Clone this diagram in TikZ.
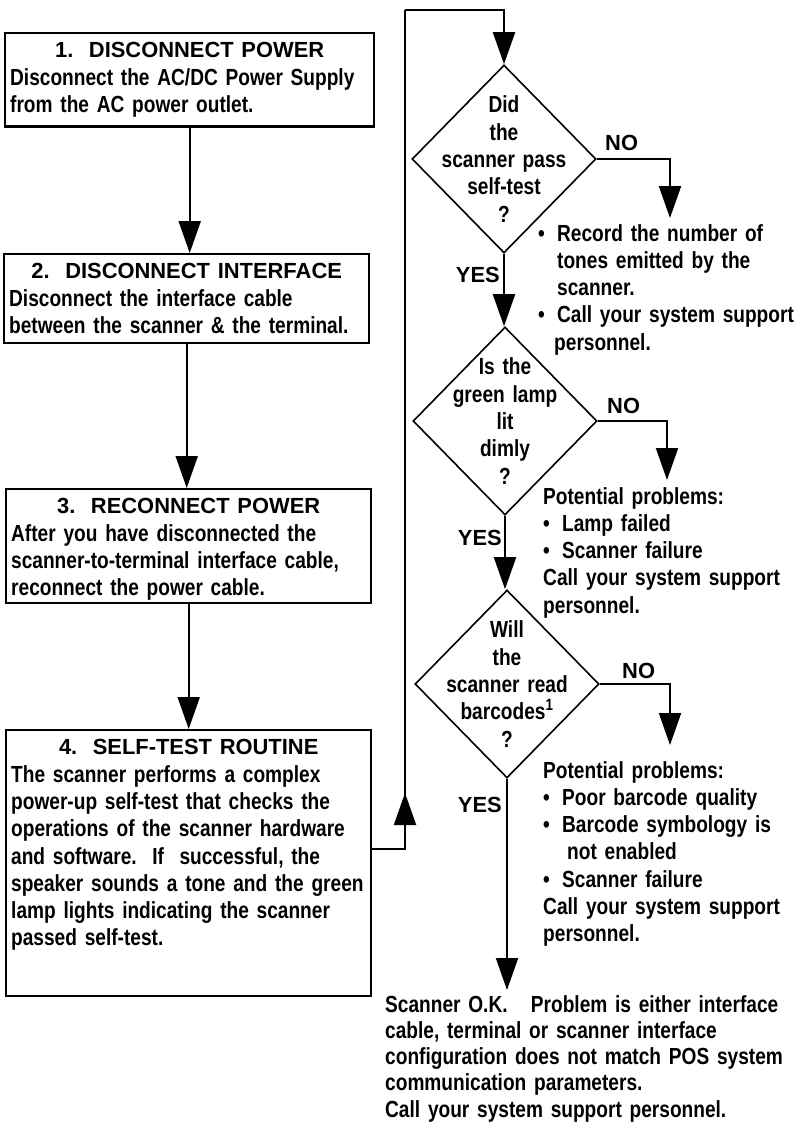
\documentclass[tikz,border=0pt]{standalone}
\usepackage{fontspec}
\setmainfont{Liberation Sans}[FakeStretch=0.82]
\newfontfamily\headfont{Liberation Sans}
\usetikzlibrary{shapes.geometric,arrows.meta}
\newcommand{\bodyfont}{\fontsize{23.3}{27.3}\selectfont\bfseries}
\newcommand{\okfont}{\fontsize{23.3}{26.3}\selectfont\bfseries}
\newcommand{\lblfont}{\headfont\fontsize{21.9}{27.3}\selectfont\bfseries}
\newcommand{\itm}{\makebox[19pt][l]{•}}
\newcommand{\ind}[1]{\hspace*{#1pt}}
\newcommand{\steptitle}[1]{\makebox[\linewidth]{\lblfont #1}}
\begin{document}
\frenchspacing
\begin{tikzpicture}[x=1pt,y=-1pt, font=\bodyfont,
  stepbox/.style={draw, line width=2.4pt, anchor=north west, text width=355pt,
    inner xsep=5pt, inner ysep=9.3pt},
  decision/.style={draw, diamond, line width=1.6pt, minimum width=184pt,
    minimum height=188pt, inner sep=0pt},
  qtext/.style={text width=170pt, inner sep=0pt},
  lbl/.style={inner sep=0pt, font=\lblfont},
  note/.style={anchor=base west, inner sep=0pt, text width=420pt},
  flow/.style={line width=2pt, -{Triangle[width=22pt,length=32pt]}},
  wire/.style={line width=2pt}]
\useasboundingbox (0,0) rectangle (794,1125);

% left column: the four steps
\node[stepbox, text width=359pt] (b1) at (4,32)
  {\steptitle{1.\ \ DISCONNECT POWER}\\
   Disconnect the AC/DC Power Supply\\from the AC power outlet.};
\node[stepbox] (b2) at (3,253)
  {\steptitle{2.\ \ DISCONNECT INTERFACE}\\
   Disconnect the interface cable\\between the scanner \& the terminal.};
\node[stepbox, text depth=79.7pt] (b3) at (5,488)
  {\steptitle{3.\ \ RECONNECT POWER}\\
   After you have disconnected the\\scanner-to-terminal interface cable,\\
   reconnect the power cable.};
\node[stepbox, text depth=231.7pt] (b4) at (5,729)
  {\steptitle{4.\ \ SELF-TEST ROUTINE}\\
   The scanner performs a complex\\power-up self-test that checks the\\
   operations of the scanner hardware\\and software.\ \ If\ \ successful, the\\
   speaker sounds a tone and the green\\lamp lights indicating the scanner\\
   passed self-test.};

\draw[flow] (b1.south) -- (b1.south |- b2.north);
\draw[flow] (b2.south) -- (b2.south |- b3.north);
\draw[flow] (b3.south) -- (b3.south |- b4.north);

% right column: the three questions
\node[decision] (d1) at (504,159) {};
\node[decision] (d2) at (505,421) {};
\node[decision] (d3) at (507,684) {};
\node[qtext] (q1) at (d1) {\centering Did\\the\\scanner pass\\self-test\\?\par};
\node[qtext] (q2) at (d2) {\centering Is the\\green lamp\\lit\\dimly\\?\par};
\node[qtext] (q3) at (d3) {\centering Will\\the\\scanner read\\barcodes\textsuperscript{1}\\?\par};

% loop from step 4 up to the first question
\coordinate (loopbot) at (405,849);
\coordinate (loopmid) at (405,793);
\coordinate (looptop) at (405,10);
\draw[wire] (b4.east |- loopbot) -- (loopbot) -- (looptop);
\draw[flow] (loopbot) -- (loopmid);
\draw[flow] (looptop) -| (d1.north);

% yes / no branches
\coordinate (no1end) at (670,218);
\coordinate (no2end) at (667,480);
\coordinate (no3end) at (670,745);
\coordinate (okend) at (507,990);
\draw[flow] (d1.east) -| (no1end);
\draw[flow] (d2.east) -| (no2end);
\draw[flow] (d3.east) -| (no3end);
\draw[flow] (d1.south) -- (d1.south |- d2.north);
\draw[flow] (d2.south) -- (d2.south |- d3.north);
\draw[flow] (d3.south) -- (okend);

\node[lbl, anchor=base west] (no1) at (605,150) {NO};
\node[lbl, anchor=base east] (yes1) at (500,282) {YES};
\node[lbl, anchor=base west] (no2) at (607,413) {NO};
\node[lbl, anchor=base east] (yes2) at (502,545) {YES};
\node[lbl, anchor=base west] (no3) at (622,678) {NO};
\node[lbl, anchor=base east] (yes3) at (502,812) {YES};

% outcomes
\node[note] (t1) at (538,241)
  {\itm Record the number of\\\ind{19}tones emitted by the\\\ind{19}scanner.\\
   \itm Call your system support\\\ind{16}personnel.};
\node[note] (t2) at (543,504)
  {Potential problems:\\\itm Lamp failed\\\itm Scanner failure\\
   Call your system support\\personnel.};
\node[note] (t3) at (543,778)
  {Potential problems:\\\itm Poor barcode quality\\\itm Barcode symbology is\\
   \ind{24}not enabled\\\itm Scanner failure\\Call your system support\\personnel.};
\node[note, font=\okfont] (t4) at (385,1012)
  {Scanner O.K.\ \ \ Problem is either interface\\cable, terminal or scanner interface\\
   configuration does not match POS system\\communication parameters.\\
   Call your system support personnel.};
\end{tikzpicture}
\end{document}
